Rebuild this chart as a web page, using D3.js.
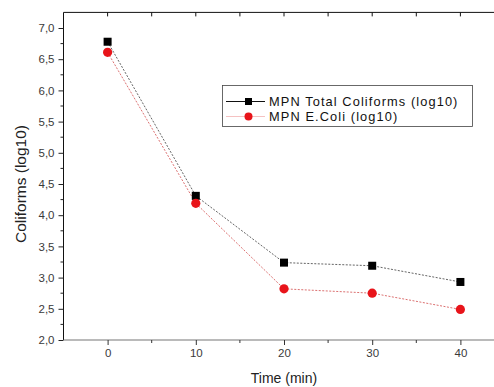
<!DOCTYPE html>
<html><head><meta charset="utf-8">
<script src="https://cdn.jsdelivr.net/npm/d3@7"></script>
<style>body{margin:0;background:#fff}svg{display:block}text{font-family:"Liberation Sans",Arial,sans-serif}</style>
</head><body><svg id="c" width="494" height="387"></svg>
<script>
const times = [0, 10, 20, 30, 40];
const totalColiforms = [6.78, 4.31, 3.24, 3.19, 2.93];
const eColi = [6.61, 4.19, 2.82, 2.75, 2.49];
const yTicks = [2.0, 2.5, 3.0, 3.5, 4.0, 4.5, 5.0, 5.5, 6.0, 6.5, 7.0];
const xTicks = [0, 10, 20, 30, 40];
const seriesNames = ["MPN Total Coliforms (log10)", "MPN E.Coli (log10)"];

const svg = d3.select("#c");
const x = d3.scaleLinear().domain([-5, 45]).range([63.5, 504.5]);
const y = d3.scaleLinear().domain([2, 7.25]).range([340, 12.4]);
const fmt = d => d.toFixed(1).replace(".", ",");

// frame top
svg.append("line").attr("x1", x(-5)).attr("x2", 494).attr("y1", y(7.25)).attr("y2", y(7.25)).attr("stroke", "#111").attr("stroke-width", 1);
// top ticks inward
const topT = d3.range(0, 45, 5);
svg.selectAll(".tt").data(topT).enter().append("line")
  .attr("x1", d => x(d)).attr("x2", d => x(d)).attr("y1", y(7.25)).attr("y2", y(7.25) + 4)
  .attr("stroke", "#111").attr("stroke-width", 1);

// left axis
const yAxis = d3.axisLeft(y).tickValues(yTicks).tickFormat(fmt).tickSize(5).tickPadding(4);
const gy = svg.append("g").attr("transform", `translate(${x(-5)},0)`).call(yAxis);
gy.select(".domain").attr("stroke", "#111").attr("d", `M0,${y(2)}V${y(7.25)}`);
gy.selectAll(".tick line").attr("stroke", "#222");
gy.selectAll(".tick text").attr("font-size", 11.5).attr("fill", "#3a3a3a");
const yMinor = d3.range(2.25, 7.25, 0.5);
gy.selectAll(".ym").data(yMinor).enter().append("line")
  .attr("x1", 0).attr("x2", -3).attr("y1", d => y(d)).attr("y2", d => y(d)).attr("stroke", "#222");

// bottom axis
const xAxis = d3.axisBottom(x).tickValues(xTicks).tickFormat(d3.format("d")).tickSize(5).tickPadding(4);
const gx = svg.append("g").attr("transform", `translate(0,${y(2)})`).call(xAxis);
gx.select(".domain").attr("stroke", "#777").attr("stroke-width", 1.2).attr("d", `M${x(-5)},0H494`);
gx.selectAll(".tick line").attr("stroke", "#333");
gx.selectAll(".tick text").attr("font-size", 11.5).attr("fill", "#3a3a3a");
const xMinor = [5, 15, 25, 35];
gx.selectAll(".xm").data(xMinor).enter().append("line")
  .attr("x1", d => x(d)).attr("x2", d => x(d)).attr("y1", 0).attr("y2", 3).attr("stroke", "#333");

// axis titles
svg.append("text").attr("x", x(20)).attr("y", 383).attr("text-anchor", "middle")
  .attr("font-size", 14).attr("fill", "#222").text("Time (min)");
svg.append("text").attr("transform", `translate(26,${y(4.5)}) rotate(-90)`).attr("text-anchor", "middle")
  .attr("font-size", 15.5).attr("fill", "#222").text("Coliforms (log10)");

// lines
const line = d3.line().x((d, i) => x(times[i])).y(d => y(d));
svg.append("path").datum(totalColiforms).attr("d", line).attr("fill", "none")
  .attr("stroke", "#222").attr("stroke-width", 0.7).attr("stroke-dasharray", "2,1.5");
svg.append("path").datum(eColi).attr("d", line).attr("fill", "none")
  .attr("stroke", "#c33").attr("stroke-width", 0.7).attr("stroke-dasharray", "2,1.5");

// markers
svg.selectAll(".sq").data(totalColiforms).enter().append("rect")
  .attr("x", (d, i) => x(times[i]) - 4).attr("y", d => y(d) - 4).attr("width", 8).attr("height", 8).attr("fill", "#000");
svg.selectAll(".ci").data(eColi).enter().append("circle")
  .attr("cx", (d, i) => x(times[i])).attr("cy", d => y(d)).attr("r", 4.6).attr("fill", "#e8141a");

// legend
const rowY = [101.5, 116.5];
const lg = svg.append("g");
lg.append("rect").attr("x", 222.5).attr("y", 85.5).attr("width", 250).attr("height", 41)
  .attr("fill", "#fff").attr("stroke", "#444").attr("stroke-width", 0.8);
lg.append("line").attr("x1", 226).attr("x2", 265).attr("y1", rowY[0]).attr("y2", rowY[0]).attr("stroke", "#111").attr("stroke-width", 1);
lg.append("rect").attr("x", 245).attr("y", rowY[0] - 3.5).attr("width", 7).attr("height", 7).attr("fill", "#000");
lg.append("line").attr("x1", 226).attr("x2", 265).attr("y1", rowY[1]).attr("y2", rowY[1]).attr("stroke", "#e99").attr("stroke-width", 0.6);
lg.append("circle").attr("cx", 248.5).attr("cy", rowY[1]).attr("r", 4).attr("fill", "#e8141a");
lg.selectAll(".lt").data(seriesNames).enter().append("text")
  .attr("x", 269).attr("y", (d, i) => rowY[i] + 4.8).attr("font-size", 12.8).attr("letter-spacing", 1.1)
  .attr("fill", "#111").text(d => d);
</script></body></html>
